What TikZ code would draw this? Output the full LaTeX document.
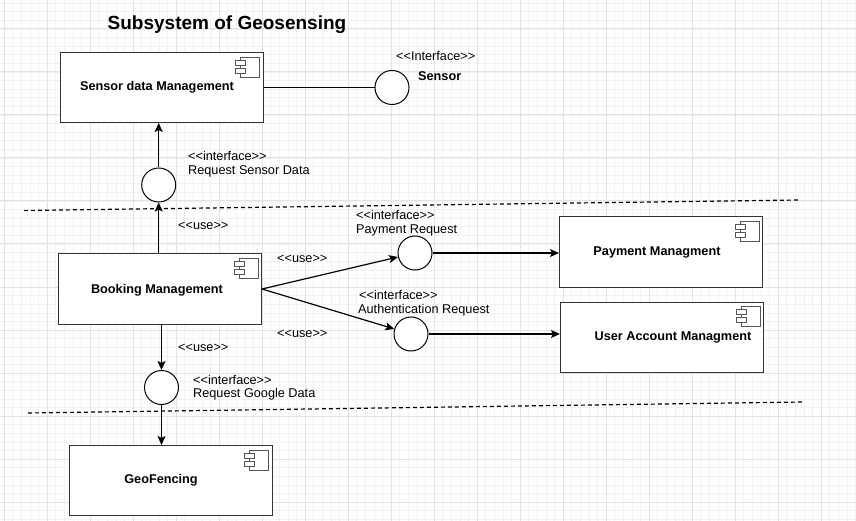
\documentclass[tikz,border=0pt]{standalone}
\usepackage{fontspec}
\setmainfont{Liberation Sans}
\usetikzlibrary{arrows.meta}
\definecolor{gridmajor}{HTML}{E3E3E3}
\definecolor{gridminor}{HTML}{F2F2F2}
\definecolor{boxline}{HTML}{333333}
\definecolor{iconline}{HTML}{555555}
\newcommand\stereo[1]{<\kern0pt<#1>\kern0pt>}
\newcommand\compicon[1]{%
  \draw[draw=iconline, fill=white, line width=0.8pt] ([shift={(-23,5)}]#1.north east) rectangle ([shift={(-4,25)}]#1.north east);
  \draw[draw=iconline, fill=white, line width=0.8pt] ([shift={(-28,8)}]#1.north east) rectangle ([shift={(-18,13)}]#1.north east);
  \draw[draw=iconline, fill=white, line width=0.8pt] ([shift={(-28,16)}]#1.north east) rectangle ([shift={(-18,21)}]#1.north east);
}
\begin{document}
\begin{tikzpicture}[x=1pt,y=-1pt,
  compbox/.style={draw=boxline, fill=white, line width=1pt, rectangle, inner sep=0, minimum width=203pt, minimum height=70pt},
  boxtext/.style={font=\fontsize{12.7}{14}\selectfont\bfseries, inner sep=0},
  lbl/.style={font=\fontsize{12.7}{14}\selectfont, anchor=west, inner sep=0},
  iface/.style={circle, draw=black, fill=white, line width=1pt, minimum size=34pt, inner sep=0},
  conn/.style={line width=1.2pt, draw=black},
  arr/.style={conn, -{Stealth[length=9pt,width=8pt,inset=2pt]}},
  sepline/.style={line width=1.2pt, dash pattern=on 4pt off 3pt}
]
\useasboundingbox (0,0) rectangle (856,521);
% grid
\begin{scope}
\clip (0,0) rectangle (856,521);
\foreach \i in {0,...,106} {\draw[gridminor, line width=0.6pt] ({8.6*\i-39},0) -- ++(0,521);}
\foreach \i in {0,...,66} {\draw[gridminor, line width=0.6pt] (0,{8.6*\i-14}) -- ++(856,0);}
\foreach \i in {0,...,20} {\draw[gridmajor, line width=1pt] ({4+43*\i},0) -- ++(0,521);}
\foreach \i in {0,...,12} {\draw[gridmajor, line width=1pt] (0,{29+43*\i}) -- ++(856,0);}
\end{scope}

% title
\node[font=\fontsize{19}{22}\selectfont\bfseries, inner sep=0] (title) at (227,25) {Subsystem of Geosensing};

% separators
\coordinate (d1a) at (24,210.5);
\coordinate (d1b) at (799,200);
\coordinate (d2a) at (28,413);
\coordinate (d2b) at (803,402);
\draw[sepline] (d1a) -- (d1b);
\draw[sepline] (d2a) -- (d2b);

% components
\node[compbox] (sdm) at (161.5,87.5) {};
\node[compbox] (bm) at (160,289) {};
\node[compbox] (pm) at (661,252) {};
\node[compbox] (uam) at (662,337) {};
\node[compbox] (geo) at (170.5,480.5) {};
\compicon{sdm}
\compicon{bm}
\compicon{pm}
\compicon{uam}
\compicon{geo}
\node[boxtext] (sdmt) at (157,87) {Sensor data Management};
\node[boxtext] (bmt) at (157,290) {Booking Management};
\node[boxtext] (pmt) at (657,252) {Payment Managment};
\node[boxtext] (uamt) at (673,337) {User Account Managment};
\node[boxtext] (geot) at (161,480) {GeoFencing};

% interfaces
\node[iface] (sif) at (392,87.5) {};
\node[iface] (rs) at (158.7,185) {};
\node[iface] (pay) at (415,253) {};
\node[iface] (auth) at (411,334) {};
\node[iface] (gd) at (161.5,387.5) {};

% connectors
\draw[conn] (sdm.east) -- (sif);
\draw[arr] (rs.north) -- (rs.north |- sdm.south);
\draw[arr] (rs.south |- bm.north) -- (rs.south);
\draw[arr] (bm.east) -- (pay);
\draw[arr] (bm.east) -- (auth);
\draw[arr] (pay.east) -- (pay.east -| pm.west);
\draw[arr] (auth.east) -- (auth.east -| uam.west);
\draw[arr] (gd.north |- bm.south) -- (gd.north);
\draw[arr] (gd.south) -- (gd.south |- geo.north);

% labels
\node[lbl] (l1) at (396,56) {\stereo{Interface}};
\node[lbl, font=\fontsize{12.7}{14}\selectfont\bfseries] (l2) at (418,76) {Sensor};
\node[lbl] (l3) at (188,156) {\stereo{interface}};
\node[lbl] (l4) at (188,171) {Request Sensor Data};
\node[lbl] (u1) at (178,226) {\stereo{use}};
\node[lbl] (u2) at (277,259) {\stereo{use}};
\node[lbl] (l5) at (356,215) {\stereo{interface}};
\node[lbl] (l6) at (356,230) {Payment Request};
\node[lbl] (l7) at (359,295) {\stereo{interface}};
\node[lbl] (l8) at (358,310) {Authentication Request};
\node[lbl] (u3) at (277,334) {\stereo{use}};
\node[lbl] (u4) at (178,348) {\stereo{use}};
\node[lbl] (l9) at (193,380) {\stereo{interface}};
\node[lbl] (l10) at (193,394) {Request Google Data};
\end{tikzpicture}
\end{document}
